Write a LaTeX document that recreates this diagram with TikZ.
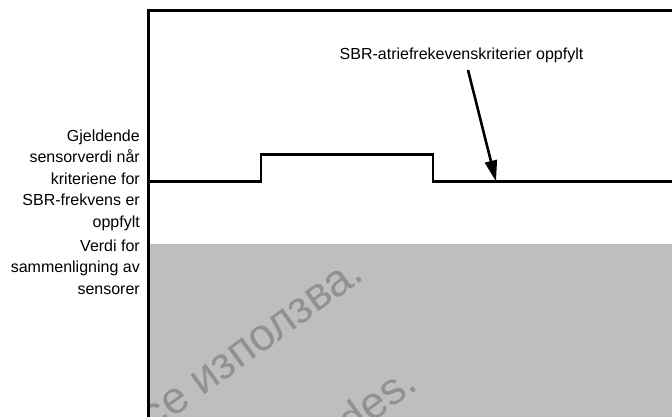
\documentclass[tikz,border=0pt]{standalone}
\usepackage{fontspec}
\setmainfont{Liberation Sans}
\usepackage{tikz}
\usetikzlibrary{positioning,arrows.meta}
\definecolor{cmpgray}{RGB}{190,190,190}
\definecolor{wmgray}{RGB}{145,145,145}

\begin{document}
\begin{tikzpicture} [x=1pt,y=-1pt,>={Triangle[length=21pt,width=12pt]},%
line cap=butt,line join=miter,every node/.style={inner sep=0pt,font=\fontsize{16}{21.5}\selectfont}]
%\draw[help lines] (0,0) grid (672,417);
\useasboundingbox (0,0) rectangle (672,417);
\fill[cmpgray] (150,244) rectangle (672,417);
\begin{scope}
\clip (150,244) rectangle (672,417);
\node[wmgray,rotate=36,anchor=base east,font=\fontsize{45}{45}\selectfont] (wma) at (366,278) {се използва.};
\node[wmgray,rotate=36,anchor=base east,font=\fontsize{45}{45}\selectfont] (wmb) at (420,388) {des.};
\end{scope}
\draw[line width=3pt] (148.5,417) -- (148.5,10.5) -- (672,10.5);
\draw[line width=2.6pt] (148,181.5) -- (261,181.5) -- (261,154.5) -- (433,154.5)
     -- (433,181.5) -- (672,181.5);
\node[anchor=base east,align=right] (cur) at (140,227)
     {Gjeldende\\sensorverdi når\\kriteriene for\\SBR-frekvens er\\oppfylt};
\node[anchor=base east,align=right] (cmp) at (140,294)
     {Verdi for\\sammenligning av\\sensorer};
\node[anchor=base] (crit) at (461.5,60) {SBR-atriefrekevenskriterier oppfylt};
\coordinate (tail) at (468,70);
\coordinate (hit)  at (496,181.5);
\draw[->,line width=2.6pt] (tail) -- (hit);
\end{tikzpicture}
\end{document}
